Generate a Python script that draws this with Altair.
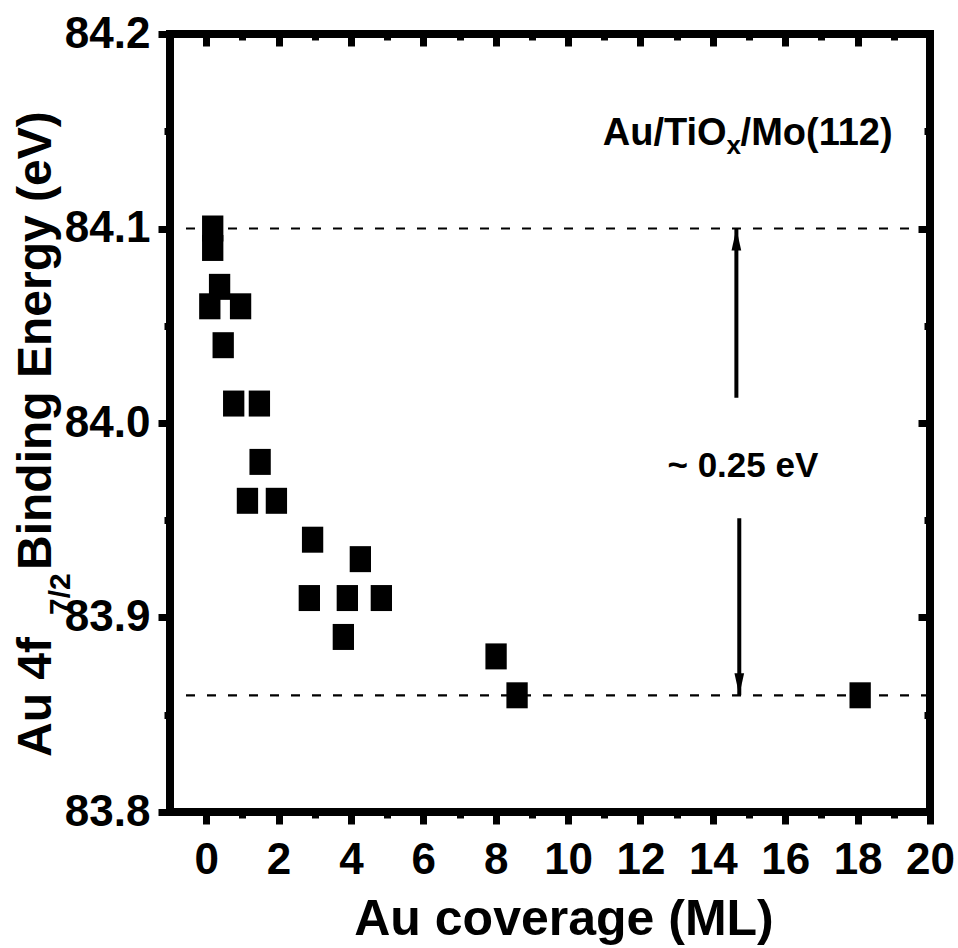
import altair as alt
import pandas as pd

# ---------------- data ----------------
COVERAGE = [0.18, 0.18, 0.37, 0.10, 0.95, 0.47, 0.76, 1.47, 1.49, 1.14,
            1.94, 2.94, 4.26, 2.85, 3.90, 4.84, 3.79, 8.01, 8.59, 18.07]
BINDING = [84.10, 84.09, 84.07, 84.06, 84.06, 84.04, 84.01, 84.01, 83.98, 83.96,
           83.96, 83.94, 83.93, 83.91, 83.91, 83.91, 83.89, 83.88, 83.86, 83.86]

REF_LEVELS = [84.10, 83.86]          # dashed reference lines
ARROW_X = [14.65, 14.73]
ARROW_FROM = [84.013, 83.951]
ARROW_TO = [84.10, 83.86]
SHIFT_LABEL = ["~ 0.25 eV"]
SHIFT_X = [14.83]
SHIFT_Y = [83.978]
SAMPLE_PARTS = ["Au/TiO", "x", "/Mo(112)"]
SAMPLE_X = [14.38]
SAMPLE_Y = [84.143]

X_DOMAIN = [-1, 20]
Y_DOMAIN = [83.8, 84.2]
X_MAJOR = [0, 2, 4, 6, 8, 10, 12, 14, 16, 18, 20]
X_MINOR = [1, 3, 5, 7, 9, 11, 13, 15, 17, 19]
Y_MAJOR = [83.8, 83.9, 84.0, 84.1, 84.2]
Y_MINOR = [83.85, 83.95, 84.05, 84.15]

X_TITLE = "Au coverage (ML)"
Y_TITLE_PARTS = ["Au 4f", "7/2", "Binding Energy (eV)"]

FONT = "Liberation Sans, Arial, sans-serif"

W, H = 760, 778

xs = alt.Scale(domain=X_DOMAIN, nice=False, zero=False)
ys = alt.Scale(domain=Y_DOMAIN, nice=False, zero=False)

pts = pd.DataFrame({"cov": COVERAGE, "be": BINDING})


def axis(orient, values, size, offset=0, labels=False, fmt=None, pad=8):
    kw = dict(orient=orient, values=values, tickSize=size, tickWidth=7,
              tickColor="black", domain=False, grid=False, title=None,
              labels=labels, ticks=True)
    if offset:
        kw["offset"] = offset
    if labels:
        kw.update(labelFont=FONT, labelFontSize=44, labelFontWeight="bold",
                  labelColor="black", labelPadding=pad, labelFlush=False,
                  labelOverlap=False, labelBound=False, format=fmt)
    return alt.Axis(**kw)


def X(field):
    return alt.X(field, scale=xs, axis=None)


def Y(field):
    return alt.Y(field, scale=ys, axis=None)


square = "M-0.82,-1 L0.82,-1 L0.82,1 L-0.82,1 Z"

points = alt.Chart(pts).mark_point(
    shape=square, filled=True, size=676, color="black", opacity=1, strokeWidth=0
).encode(
    x=alt.X("cov:Q", scale=xs, axis=axis("bottom", X_MAJOR, 12, labels=True, fmt="d", pad=14)),
    y=alt.Y("be:Q", scale=ys, axis=axis("left", Y_MAJOR, 12, labels=True, fmt=".1f", pad=8)),
)


def ghost(xax, yax):
    return alt.Chart(pts).mark_point(opacity=0).encode(
        x=alt.X("cov:Q", scale=xs, axis=xax),
        y=alt.Y("be:Q", scale=ys, axis=yax),
    )


minor_outer = ghost(axis("bottom", X_MINOR, 6), axis("left", Y_MINOR, 6))
major_inner = ghost(axis("top", X_MAJOR, 12, offset=-12), axis("right", Y_MAJOR, 12, offset=-12))
minor_inner = ghost(axis("top", X_MINOR, 6, offset=-6), axis("right", Y_MINOR, 6, offset=-6))

refs = alt.Chart(pd.DataFrame({"lvl": REF_LEVELS})).mark_rule(
    color="black", strokeWidth=2.2, strokeDash=[9, 12]
).encode(y=Y("lvl:Q"))

arr = pd.DataFrame({"x": ARROW_X, "y0": ARROW_FROM, "y1": ARROW_TO})
shafts = alt.Chart(arr).mark_rule(color="black", strokeWidth=4).encode(
    x=X("x:Q"), y=Y("y0:Q"), y2="y1:Q"
)
head_up = alt.Chart(arr.iloc[[0]]).mark_point(
    shape="M0,0 L0.44,2 L-0.44,2 Z", filled=True, size=484, color="black", opacity=1, strokeWidth=0
).encode(x=X("x:Q"), y=Y("y1:Q"))
head_down = alt.Chart(arr.iloc[[1]]).mark_point(
    shape="M0,0 L0.44,-2 L-0.44,-2 Z", filled=True, size=484, color="black", opacity=1, strokeWidth=0
).encode(x=X("x:Q"), y=Y("y1:Q"))

shift_txt = alt.Chart(pd.DataFrame({"t": SHIFT_LABEL, "x": SHIFT_X, "y": SHIFT_Y})).mark_text(
    font=FONT, fontSize=35, fontWeight="bold", color="black", align="center", baseline="middle"
).encode(x=X("x:Q"), y=Y("y:Q"), text="t:N")

samp = pd.DataFrame({"x": SAMPLE_X, "y": SAMPLE_Y})
s1 = alt.Chart(samp.assign(t=SAMPLE_PARTS[0])).mark_text(
    font=FONT, fontSize=38, fontWeight="bold", color="black", align="right", baseline="alphabetic"
).encode(x=X("x:Q"), y=Y("y:Q"), text="t:N")
s2 = alt.Chart(samp.assign(t=SAMPLE_PARTS[1])).mark_text(
    font=FONT, fontSize=26, fontWeight="bold", color="black", align="left", baseline="alphabetic", dx=0, dy=9
).encode(x=X("x:Q"), y=Y("y:Q"), text="t:N")
s3 = alt.Chart(samp.assign(t=SAMPLE_PARTS[2])).mark_text(
    font=FONT, fontSize=38, fontWeight="bold", color="black", align="left", baseline="alphabetic", dx=14
).encode(x=X("x:Q"), y=Y("y:Q"), text="t:N")

xtitle = alt.Chart(pd.DataFrame({"t": [X_TITLE]})).mark_text(
    font=FONT, fontSize=50, fontWeight="bold", color="black", align="center", baseline="alphabetic"
).encode(x=alt.value(394), y=alt.value(901), text="t:N")

yt1 = alt.Chart(pd.DataFrame({"t": [Y_TITLE_PARTS[0]]})).mark_text(
    font=FONT, fontSize=48, fontWeight="bold", color="black", align="left", baseline="alphabetic", angle=270
).encode(x=alt.value(-119), y=alt.value(723), text="t:N")
yt2 = alt.Chart(pd.DataFrame({"t": [Y_TITLE_PARTS[1]]})).mark_text(
    font=FONT, fontSize=30, fontWeight="bold", color="black", align="left", baseline="alphabetic", angle=270
).encode(x=alt.value(-100), y=alt.value(581), text="t:N")
yt3 = alt.Chart(pd.DataFrame({"t": [Y_TITLE_PARTS[2]]})).mark_text(
    font=FONT, fontSize=48, fontWeight="bold", color="black", align="left", baseline="alphabetic", angle=270
).encode(x=alt.value(-119), y=alt.value(536), text="t:N")

chart = alt.layer(
    refs, shafts, head_up, head_down, points, minor_outer, major_inner, minor_inner,
    shift_txt, s1, s2, s3, xtitle, yt1, yt2, yt3
).resolve_axis(
    x="independent", y="independent"
).properties(
    width=W, height=H,
    autosize=alt.AutoSizeParams(type="none"),
    padding={"left": 170, "top": 34, "right": 28, "bottom": 136},
    background="white",
).configure_view(
    stroke="black", strokeWidth=8
)

chart.save("out.html", embed_options={"renderer": "svg", "actions": False})
